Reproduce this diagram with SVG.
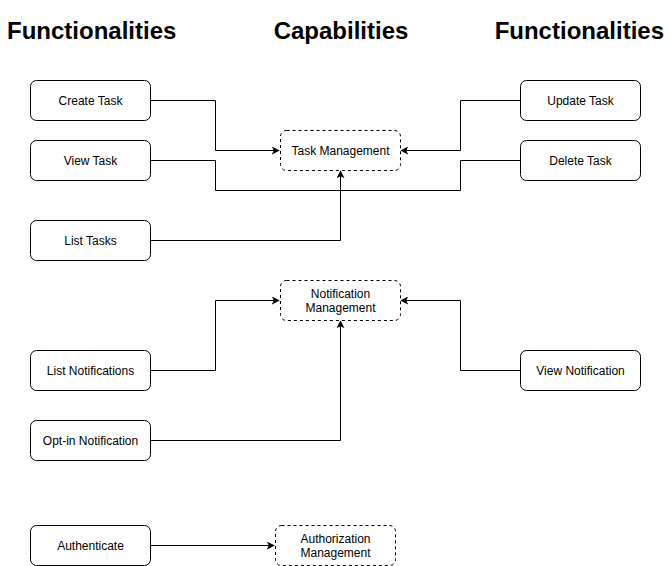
<svg xmlns="http://www.w3.org/2000/svg" width="671" height="566" viewBox="0 0 671 566">
<style>
.title{font-family:"Liberation Sans",Arial,sans-serif;font-weight:bold;font-size:24px;fill:#000}
.lbl{font-family:"Liberation Sans",Arial,sans-serif;font-size:12px;fill:#000;text-anchor:middle}
.fn{fill:#fff;stroke:#000;stroke-width:1}
.cap{fill:#fff;stroke:#000;stroke-width:1;stroke-dasharray:3 3}
.edge{fill:none;stroke:#000;stroke-width:1}
</style>
<defs>
<marker id="arr" viewBox="0 0 10 10" refX="9" refY="5" markerWidth="8" markerHeight="8" markerUnits="userSpaceOnUse" orient="auto">
<path d="M0,0 L10,5 L0,10 L2.5,5 Z" fill="#000"/>
</marker>
</defs>
<rect width="671" height="566" fill="#fff"/>
<g id="titles">
<text class="title" x="7" y="39">Functionalities</text>
<text class="title" x="341" y="39" text-anchor="middle">Capabilities</text>
<text class="title" x="664" y="39" text-anchor="end">Functionalities</text>
</g>
<g id="connectors">
<path class="edge" d="M150.5,100.5 H215.5 V150.5 H279" marker-end="url(#arr)"/>
<path class="edge" d="M150.5,160.5 H215.5 V190.5 H460.5 V160.5 H520.5"/>
<path class="edge" d="M150.5,240.5 H340.5 V171" marker-end="url(#arr)"/>
<path class="edge" d="M520.5,100.5 H460.5 V150.5 H401" marker-end="url(#arr)"/>
<path class="edge" d="M150.5,370.5 H215.5 V300.5 H279" marker-end="url(#arr)"/>
<path class="edge" d="M150.5,440.5 H340.5 V321" marker-end="url(#arr)"/>
<path class="edge" d="M520.5,370.5 H460.5 V300.5 H401" marker-end="url(#arr)"/>
<path class="edge" d="M150.5,545.5 H274" marker-end="url(#arr)"/>
</g>
<g id="create-task"><rect class="fn" x="30.5" y="80.5" width="120" height="40" rx="6"/><text class="lbl" x="90.5" y="104.5">Create Task</text></g>
<g id="view-task"><rect class="fn" x="30.5" y="140.5" width="120" height="40" rx="6"/><text class="lbl" x="90.5" y="164.5">View Task</text></g>
<g id="list-tasks"><rect class="fn" x="30.5" y="220.5" width="120" height="40" rx="6"/><text class="lbl" x="90.5" y="244.5">List Tasks</text></g>
<g id="update-task"><rect class="fn" x="520.5" y="80.5" width="120" height="40" rx="6"/><text class="lbl" x="580.5" y="104.5">Update Task</text></g>
<g id="delete-task"><rect class="fn" x="520.5" y="140.5" width="120" height="40" rx="6"/><text class="lbl" x="580.5" y="164.5">Delete Task</text></g>
<g id="task-management"><rect class="cap" x="280.5" y="130.5" width="120" height="40" rx="6"/><text class="lbl" x="340.5" y="154.5">Task Management</text></g>
<g id="notification-management"><rect class="cap" x="280.5" y="280.5" width="120" height="40" rx="6"/><text class="lbl" x="340.5" y="297.5">Notification</text><text class="lbl" x="340.5" y="311.5">Management</text></g>
<g id="list-notifications"><rect class="fn" x="30.5" y="350.5" width="120" height="40" rx="6"/><text class="lbl" x="90.5" y="374.5">List Notifications</text></g>
<g id="opt-in-notification"><rect class="fn" x="30.5" y="420.5" width="120" height="40" rx="6"/><text class="lbl" x="90.5" y="444.5">Opt-in Notification</text></g>
<g id="view-notification"><rect class="fn" x="520.5" y="350.5" width="120" height="40" rx="6"/><text class="lbl" x="580.5" y="374.5">View Notification</text></g>
<g id="authenticate"><rect class="fn" x="30.5" y="525.5" width="120" height="40" rx="6"/><text class="lbl" x="90.5" y="549.5">Authenticate</text></g>
<g id="authorization-management"><rect class="cap" x="275.5" y="525.5" width="120" height="40" rx="6"/><text class="lbl" x="335.5" y="542.5">Authorization</text><text class="lbl" x="335.5" y="556.5">Management</text></g>
</svg>
